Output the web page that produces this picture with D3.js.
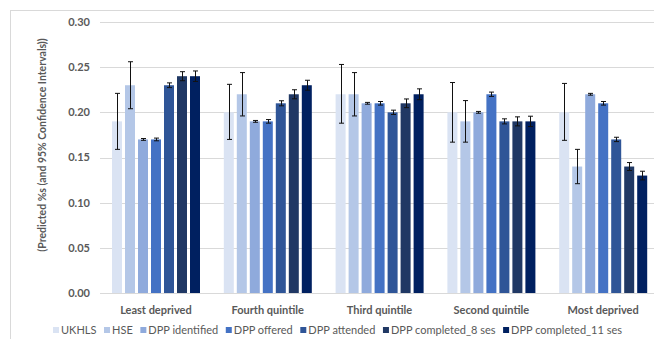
<!DOCTYPE html>
<html><head><meta charset="utf-8">
<script src="https://cdn.jsdelivr.net/npm/d3@7"></script>
<style>
html,body{margin:0;padding:0;background:#fff;}
svg{display:block;font-family:Lato,"Open Sans",sans-serif;}
</style></head>
<body><svg id="c" width="654" height="339"></svg>
<script>
const categories = ["Least deprived","Fourth quintile","Third quintile","Second quintile","Most deprived"];
const seriesNames = ["UKHLS","HSE","DPP identified","DPP offered","DPP attended","DPP completed_8 ses","DPP completed_11 ses"];
const seriesColors = ["#dae3f3","#b4c7e7","#8faadc","#4472c4","#2f5597","#203864","#002060"];
// values per series, across categories
const ukhls      = [0.19, 0.20, 0.22, 0.20, 0.20];
const hse        = [0.23, 0.22, 0.22, 0.19, 0.14];
const dppIdent   = [0.17, 0.19, 0.21, 0.20, 0.22];
const dppOffered = [0.17, 0.19, 0.21, 0.22, 0.21];
const dppAttend  = [0.23, 0.21, 0.20, 0.19, 0.17];
const dppComp8   = [0.24, 0.22, 0.21, 0.19, 0.14];
const dppComp11  = [0.24, 0.23, 0.22, 0.19, 0.13];
// 95% CI lower / upper
const ukhlsLo = [0.159, 0.170, 0.188, 0.167, 0.169], ukhlsHi = [0.221, 0.231, 0.253, 0.233, 0.232];
const hseLo   = [0.204, 0.196, 0.196, 0.167, 0.121], hseHi   = [0.256, 0.244, 0.244, 0.213, 0.159];
const identLo = [0.169, 0.189, 0.209, 0.199, 0.219], identHi = [0.171, 0.191, 0.211, 0.201, 0.221];
const offLo   = [0.1685,0.188, 0.208, 0.2176,0.208], offHi   = [0.1715,0.192, 0.212, 0.2224,0.212];
const attLo   = [0.2274,0.2072,0.1976,0.1872,0.1676],attHi   = [0.2326,0.2128,0.2024,0.1928,0.1724];
const c8Lo    = [0.235, 0.215, 0.2052,0.185, 0.1356],c8Hi    = [0.245, 0.225, 0.2148,0.195, 0.1444];
const c11Lo   = [0.2342,0.2245,0.214, 0.1843,0.1252],c11Hi   = [0.2458,0.2355,0.226, 0.1957,0.1348];
const yTicks = [0, 0.05, 0.10, 0.15, 0.20, 0.25, 0.30];

(function(){
const seriesValues = [ukhls,hse,dppIdent,dppOffered,dppAttend,dppComp8,dppComp11];
const seriesLo = [ukhlsLo,hseLo,identLo,offLo,attLo,c8Lo,c11Lo];
const seriesHi = [ukhlsHi,hseHi,identHi,offHi,attHi,c8Hi,c11Hi];

const svg = d3.select("#c");
const W = 654, H = 339;
const pLeft = 100, pRight = 659, pTop = 22, pBottom = 293;

svg.append("rect").attr("x",10.5).attr("y",10.5).attr("width",W).attr("height",H)
  .attr("fill","none").attr("stroke","#d9d9d9").attr("stroke-width",1);

const y = d3.scaleLinear().domain([0,0.30]).range([pBottom, pTop]);
const x0 = d3.scaleBand().domain(categories).range([pLeft, pRight]).padding(0);
const x1 = d3.scaleBand().domain(seriesNames).range([12, 100]).paddingInner(3/13).paddingOuter(0);
const color = d3.scaleOrdinal().domain(seriesNames).range(seriesColors);

svg.append("g").selectAll("line").data(yTicks.slice(1)).join("line")
  .attr("x1",pLeft).attr("x2",W).attr("y1",d=>Math.round(y(d))+0.5).attr("y2",d=>Math.round(y(d))+0.5)
  .attr("stroke","#d9d9d9").attr("stroke-width",1);

svg.append("g").selectAll("text").data(yTicks).join("text")
  .attr("x",90).attr("y",d=>y(d)).attr("dy","0.35em").attr("text-anchor","end")
  .attr("font-size","11px").attr("font-weight","bold").attr("fill","#595959")
  .text(d=>d3.format(".2f")(d));

svg.append("text").attr("transform",`translate(42,145) rotate(-90)`)
  .attr("text-anchor","middle").attr("dy","0.35em").attr("font-size","10.5px").attr("font-weight","bold")
  .attr("fill","#595959").text("(Predicted %s (and 95% Confidence Intervals))");

const rows = [];
categories.forEach((c,ci)=>seriesNames.forEach((s,si)=>rows.push({c,s,v:seriesValues[si][ci],lo:seriesLo[si][ci],hi:seriesHi[si][ci]})));

svg.append("g").selectAll("rect").data(rows).join("rect")
  .attr("x",d=>x0(d.c)+x1(d.s)).attr("width",x1.bandwidth())
  .attr("y",d=>y(d.v)).attr("height",d=>y(0)-y(d.v))
  .attr("fill",d=>color(d.s));

svg.append("line").attr("x1",pLeft).attr("x2",W).attr("y1",pBottom+0.5).attr("y2",pBottom+0.5)
  .attr("stroke","#d9d9d9").attr("stroke-width",1);

const eb = svg.append("g").attr("stroke","#111").attr("stroke-width",1);
rows.forEach(d=>{
  const cx = Math.round(x0(d.c)+x1(d.s)+x1.bandwidth()/2)+0.5;
  eb.append("line").attr("x1",cx).attr("x2",cx).attr("y1",y(d.hi)).attr("y2",y(d.lo));
  eb.append("line").attr("x1",cx-2.5).attr("x2",cx+2.5).attr("y1",y(d.hi)).attr("y2",y(d.hi));
  eb.append("line").attr("x1",cx-2.5).attr("x2",cx+2.5).attr("y1",y(d.lo)).attr("y2",y(d.lo));
});

svg.append("g").selectAll("text").data(categories).join("text")
  .attr("x",d=>x0(d)+x0.bandwidth()/2).attr("y",310).attr("dy","0.35em").attr("text-anchor","middle")
  .attr("font-size","11px").attr("font-weight","bold").attr("fill","#595959").text(d=>d);

const leg = svg.append("g");
const items = leg.selectAll("g").data(seriesNames).join("g");
items.append("rect").attr("width",6).attr("height",6).attr("y",-3).attr("fill",d=>color(d));
items.append("text").attr("x",8).attr("dy","0.35em").attr("font-size","11px").attr("fill","#595959").text(d=>d);
const widths = []; items.each(function(){ widths.push(8 + d3.select(this).select("text").node().getComputedTextLength()); });
const legStart = 53, legEnd = 622;
const gap = Math.max(6, (legEnd - legStart - d3.sum(widths)) / (widths.length-1));
let lx = legStart;
items.attr("transform",(d,i)=>{ const t = `translate(${lx},330)`; lx += widths[i]+gap; return t; });
})();
</script></body></html>
